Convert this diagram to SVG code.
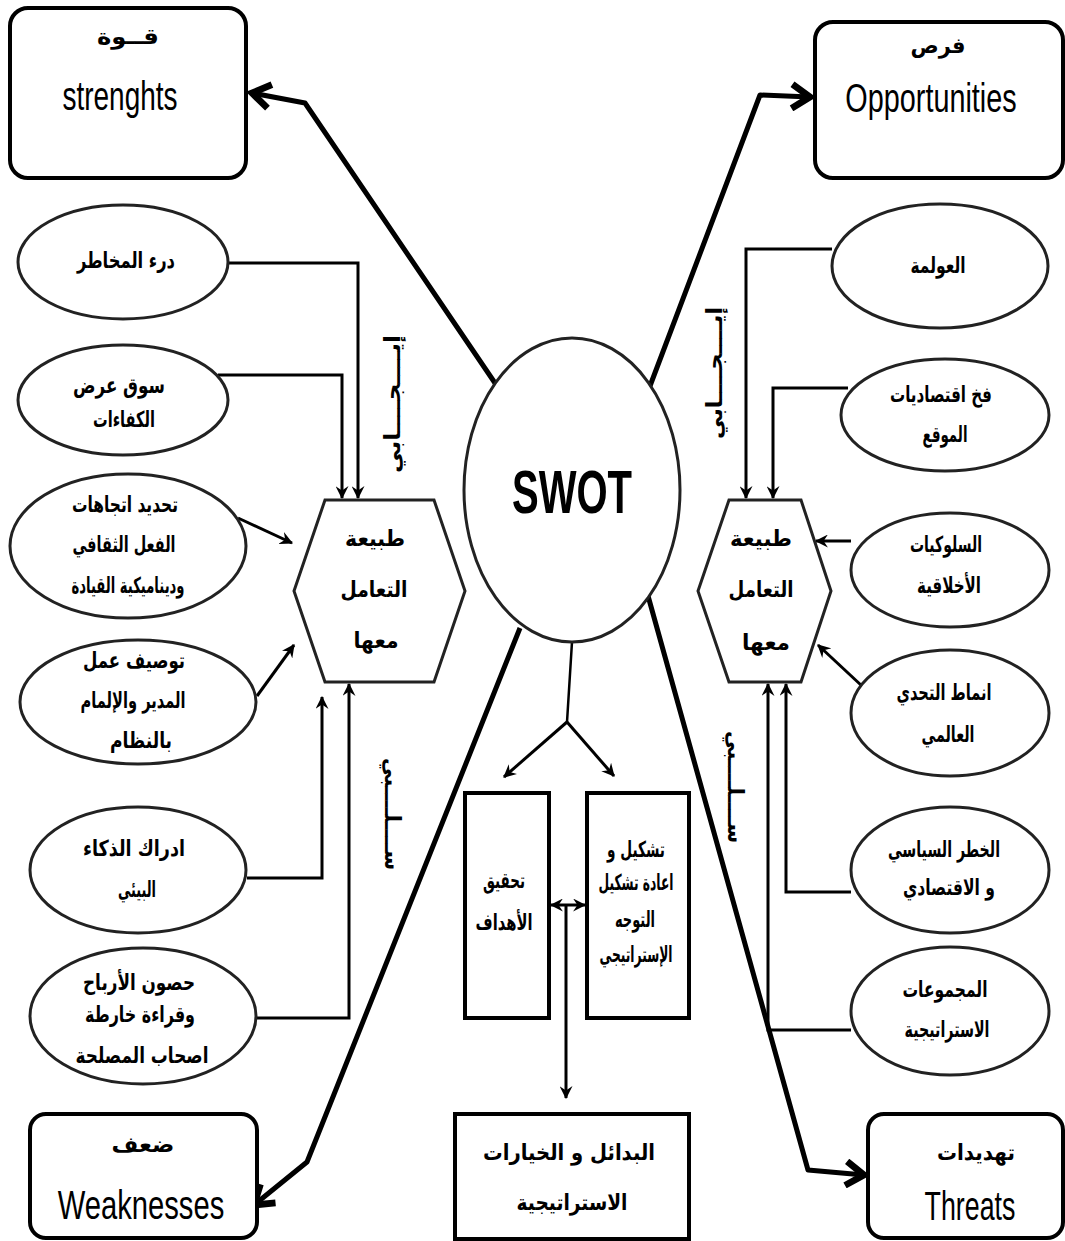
<svg xmlns="http://www.w3.org/2000/svg" width="1065" height="1241" viewBox="0 0 1065 1241">
  <style>
    .box { fill: #fff; stroke: #000; stroke-width: 4; }
    .ell { fill: #fff; stroke: #222; stroke-width: 3; }
    .hex { fill: #fff; stroke: #222; stroke-width: 3; }
    .rect { fill: #fff; stroke: #000; stroke-width: 4; }
    .ar { font-family: "DejaVu Sans", "Noto Sans", sans-serif; font-weight: bold; font-size: 22px; fill: #000; text-anchor: middle; }
    .en { font-family: "Liberation Sans", Arial, sans-serif; font-size: 40px; fill: #000; text-anchor: middle; }
    .swot { font-family: "Liberation Sans", Arial, sans-serif; font-weight: bold; font-size: 62px; fill: #000; text-anchor: middle; }
    .thin { fill: none; stroke: #000; stroke-width: 3; marker-end: url(#tip); }
    .thick { fill: none; stroke: #000; stroke-width: 5; stroke-linejoin: round; marker-end: url(#chev); }
  </style>
  <defs>
    <marker id="tip" viewBox="0 0 12 12" refX="11" refY="6" markerWidth="13" markerHeight="13" markerUnits="userSpaceOnUse" orient="auto-start-reverse">
      <path d="M0,0 L12,6 L0,12 L4,6 z" fill="#000"/>
    </marker>
    <marker id="chev" viewBox="0 0 20 20" refX="15" refY="10" markerWidth="30" markerHeight="30" markerUnits="userSpaceOnUse" orient="auto">
      <path d="M3,2 L15,10 L3,18" fill="none" stroke="#000" stroke-width="4.5" stroke-linejoin="miter"/>
    </marker>
  </defs>

  <rect width="1065" height="1241" fill="#fff"/>

  <!-- connectors -->
  <g id="connectors">
    <!-- SWOT to the four corner boxes -->
    <polyline class="thick" points="497,386 305,103 252,93"/>
    <polyline class="thick" points="650,386 760,95 810,97"/>
    <polyline class="thick" points="520,628 307,1162 254,1205"/>
    <polyline class="thick" points="645,585 808,1170 864,1175"/>

    <!-- left factors into left hexagon -->
    <polyline class="thin" points="228,263 358,263 358,498"/>
    <polyline class="thin" points="218,375 342,375 342,498"/>
    <line class="thin" x1="238" y1="518" x2="292" y2="543"/>
    <line class="thin" x1="257" y1="696" x2="294" y2="645"/>
    <polyline class="thin" points="247,878 322,878 322,697"/>
    <polyline class="thin" points="257,1018 349,1018 349,684"/>

    <!-- right factors into right hexagon -->
    <polyline class="thin" points="832,249 746,249 746,498"/>
    <polyline class="thin" points="848,388 773,388 773,498"/>
    <line class="thin" x1="851" y1="541" x2="816" y2="541"/>
    <line class="thin" x1="862" y1="686" x2="818" y2="645"/>
    <polyline class="thin" points="851,892 786,892 786,684"/>
    <polyline class="thin" points="851,1030 768,1030 768,684"/>

    <!-- SWOT split down to the two outcome boxes -->
    <polyline fill="none" stroke="#000" stroke-width="2.5" points="572,642 567,722"/>
    <line class="thin" x1="567" y1="722" x2="504" y2="777"/>
    <line class="thin" x1="567" y1="722" x2="614" y2="776"/>

    <!-- link between the two outcome boxes and down to alternatives -->
    <line class="thin" x1="566" y1="905" x2="551" y2="905"/>
    <line class="thin" x1="566" y1="905" x2="585" y2="905"/>
    <line class="thin" x1="566" y1="905" x2="566" y2="1098"/>
  </g>

  <!-- corner boxes -->
  <g id="strengths">
    <rect class="box" x="10" y="8" width="236" height="170" rx="18"/>
    <text class="ar" x="128" y="44" font-size="24" textLength="62" lengthAdjust="spacingAndGlyphs">قــوة</text>
    <text class="en" transform="translate(120,110) scale(0.7,1)">strenghts</text>
  </g>
  <g id="opportunities">
    <rect class="box" x="815" y="22" width="248" height="156" rx="18"/>
    <text class="ar" x="938" y="53" font-size="24" textLength="55" lengthAdjust="spacingAndGlyphs">فرص</text>
    <text class="en" transform="translate(931,112) scale(0.72,1)">Opportunities</text>
  </g>
  <g id="weaknesses">
    <rect class="box" x="30" y="1114" width="227" height="124" rx="16"/>
    <text class="ar" x="143" y="1152" font-size="24" textLength="63" lengthAdjust="spacingAndGlyphs">ضعف</text>
    <text class="en" transform="translate(141,1219) scale(0.73,1)">Weaknesses</text>
  </g>
  <g id="threats">
    <rect class="box" x="868" y="1114" width="195" height="124" rx="16"/>
    <text class="ar" x="976" y="1160" font-size="24" textLength="78" lengthAdjust="spacingAndGlyphs">تهديدات</text>
    <text class="en" transform="translate(970,1220) scale(0.67,1)">Threats</text>
  </g>

  <!-- centre -->
  <g id="swot">
    <ellipse class="ell" cx="572" cy="490" rx="108" ry="152"/>
    <text class="swot" x="572" y="513" textLength="120" lengthAdjust="spacingAndGlyphs">SWOT</text>
  </g>

  <!-- hexagons -->
  <g id="hex-left">
    <polygon class="hex" points="325,500 434,500 465,591 434,682 325,682 294,591"/>
    <text class="ar" x="375" y="546" textLength="60" lengthAdjust="spacingAndGlyphs">طبيعة</text>
    <text class="ar" x="374" y="597" textLength="67" lengthAdjust="spacingAndGlyphs">التعامل</text>
    <text class="ar" x="376" y="648" textLength="45" lengthAdjust="spacingAndGlyphs">معها</text>
  </g>
  <g id="hex-right">
    <polygon class="hex" points="729,500 801,500 831,591 801,682 729,682 698,591"/>
    <text class="ar" x="761" y="546" textLength="62" lengthAdjust="spacingAndGlyphs">طبيعة</text>
    <text class="ar" x="761" y="597" textLength="65" lengthAdjust="spacingAndGlyphs">التعامل</text>
    <text class="ar" x="766" y="650" textLength="48" lengthAdjust="spacingAndGlyphs">معها</text>
  </g>

  <!-- positive / negative side labels -->
  <g id="label-pos-left">
    <text class="ar" transform="translate(400,404) rotate(-90)" x="0" y="0" textLength="138" lengthAdjust="spacingAndGlyphs">إيــــجــــابي</text>
  </g>
  <g id="label-neg-left">
    <text class="ar" transform="translate(385,814) rotate(90)" x="0" y="0" textLength="112" lengthAdjust="spacingAndGlyphs">ســــلــــبي</text>
  </g>
  <g id="label-pos-right">
    <text class="ar" transform="translate(722,373) rotate(-90)" x="0" y="0" textLength="132" lengthAdjust="spacingAndGlyphs">إيــــجــــابي</text>
  </g>
  <g id="label-neg-right">
    <text class="ar" transform="translate(728,787) rotate(90)" x="0" y="0" textLength="112" lengthAdjust="spacingAndGlyphs">ســــلــــبي</text>
  </g>

  <!-- left factors -->
  <g id="l1">
    <ellipse class="ell" cx="123" cy="262" rx="105" ry="57"/>
    <text class="ar" x="126" y="268" textLength="98" lengthAdjust="spacingAndGlyphs">درء المخاطر</text>
  </g>
  <g id="l2">
    <ellipse class="ell" cx="123" cy="400" rx="105" ry="55"/>
    <text class="ar" x="119" y="393" textLength="92" lengthAdjust="spacingAndGlyphs">سوق عرض</text>
    <text class="ar" x="124" y="427" textLength="62" lengthAdjust="spacingAndGlyphs">الكفاءات</text>
  </g>
  <g id="l3">
    <ellipse class="ell" cx="128" cy="546" rx="118" ry="72"/>
    <text class="ar" x="125" y="512" textLength="106" lengthAdjust="spacingAndGlyphs">تحديد اتجاهات</text>
    <text class="ar" x="124" y="552" textLength="103" lengthAdjust="spacingAndGlyphs">الفعل الثقافي</text>
    <text class="ar" x="128" y="593" textLength="113" lengthAdjust="spacingAndGlyphs">وديناميكية القيادة</text>
  </g>
  <g id="l4">
    <ellipse class="ell" cx="138" cy="702" rx="118" ry="62"/>
    <text class="ar" x="134" y="668" textLength="102" lengthAdjust="spacingAndGlyphs">توصيف عمل</text>
    <text class="ar" x="133" y="708" textLength="105" lengthAdjust="spacingAndGlyphs">المدير والإلمام</text>
    <text class="ar" x="141" y="748" textLength="62" lengthAdjust="spacingAndGlyphs">بالنظام</text>
  </g>
  <g id="l5">
    <ellipse class="ell" cx="138" cy="870" rx="108" ry="63"/>
    <text class="ar" x="134" y="856" textLength="102" lengthAdjust="spacingAndGlyphs">ادراك الذكاء</text>
    <text class="ar" x="137" y="897" textLength="38" lengthAdjust="spacingAndGlyphs">البيئي</text>
  </g>
  <g id="l6">
    <ellipse class="ell" cx="143" cy="1016" rx="113" ry="68"/>
    <text class="ar" x="139" y="990" textLength="112" lengthAdjust="spacingAndGlyphs">حصون الأرباح</text>
    <text class="ar" x="140" y="1022" textLength="110" lengthAdjust="spacingAndGlyphs">وقراءة خارطة</text>
    <text class="ar" x="142" y="1063" textLength="133" lengthAdjust="spacingAndGlyphs">اصحاب المصلحة</text>
  </g>

  <!-- right factors -->
  <g id="r1">
    <ellipse class="ell" cx="940" cy="266" rx="108" ry="62"/>
    <text class="ar" x="938" y="273" textLength="55" lengthAdjust="spacingAndGlyphs">العولمة</text>
  </g>
  <g id="r2">
    <ellipse class="ell" cx="945" cy="415" rx="104" ry="56"/>
    <text class="ar" x="941" y="402" textLength="102" lengthAdjust="spacingAndGlyphs">فخ اقتصاديات</text>
    <text class="ar" x="945" y="442" textLength="45" lengthAdjust="spacingAndGlyphs">الموقع</text>
  </g>
  <g id="r3">
    <ellipse class="ell" cx="950" cy="570" rx="99" ry="57"/>
    <text class="ar" x="946" y="552" textLength="72" lengthAdjust="spacingAndGlyphs">السلوكيات</text>
    <text class="ar" x="949" y="593" textLength="64" lengthAdjust="spacingAndGlyphs">الأخلاقية</text>
  </g>
  <g id="r4">
    <ellipse class="ell" cx="950" cy="713" rx="99" ry="63"/>
    <text class="ar" x="944" y="700" textLength="95" lengthAdjust="spacingAndGlyphs">انماط التحدي</text>
    <text class="ar" x="948" y="742" textLength="53" lengthAdjust="spacingAndGlyphs">العالمي</text>
  </g>
  <g id="r5">
    <ellipse class="ell" cx="950" cy="870" rx="99" ry="63"/>
    <text class="ar" x="944" y="857" textLength="112" lengthAdjust="spacingAndGlyphs">الخطر السياسي</text>
    <text class="ar" x="949" y="895" textLength="92" lengthAdjust="spacingAndGlyphs">و الاقتصادي</text>
  </g>
  <g id="r6">
    <ellipse class="ell" cx="950" cy="1011" rx="99" ry="64"/>
    <text class="ar" x="945" y="997" textLength="85" lengthAdjust="spacingAndGlyphs">المجموعات</text>
    <text class="ar" x="947" y="1037" textLength="85" lengthAdjust="spacingAndGlyphs">الاستراتيجية</text>
  </g>

  <!-- outcomes -->
  <g id="goals">
    <rect class="rect" x="465" y="793" width="84" height="225"/>
    <text class="ar" x="504" y="888" textLength="42" lengthAdjust="spacingAndGlyphs">تحقيق</text>
    <text class="ar" x="504" y="930" textLength="57" lengthAdjust="spacingAndGlyphs">الأهداف</text>
  </g>
  <g id="orientation">
    <rect class="rect" x="587" y="793" width="102" height="225"/>
    <text class="ar" x="636" y="857" textLength="58" lengthAdjust="spacingAndGlyphs">تشكيل و</text>
    <text class="ar" x="636" y="890" textLength="75" lengthAdjust="spacingAndGlyphs">اعادة تشكيل</text>
    <text class="ar" x="635" y="927" textLength="40" lengthAdjust="spacingAndGlyphs">التوجه</text>
    <text class="ar" x="636" y="962" textLength="73" lengthAdjust="spacingAndGlyphs">الإستراتيجي</text>
  </g>
  <g id="alternatives">
    <rect class="rect" x="455" y="1114" width="234" height="125"/>
    <text class="ar" x="569" y="1160" font-size="24" textLength="172" lengthAdjust="spacingAndGlyphs">البدائل و الخيارات</text>
    <text class="ar" x="572" y="1210" font-size="24" textLength="111" lengthAdjust="spacingAndGlyphs">الاستراتيجية</text>
  </g>
</svg>
